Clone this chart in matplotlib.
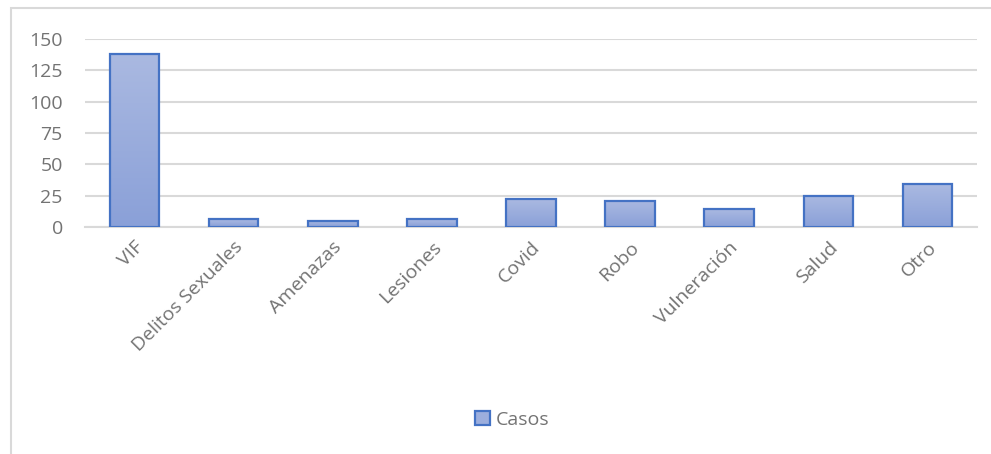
import matplotlib.pyplot as plt
import matplotlib.patches as mpatches
import numpy as np

categorias = ['VIF', 'Delitos Sexuales', 'Amenazas', 'Lesiones', 'Covid',
              'Robo', 'Vulneración', 'Salud', 'Otro']
casos = [138, 6, 5, 6, 22, 21, 14, 25, 34]
y_ticks = [0, 25, 50, 75, 100, 125, 150]

plt.rcParams['font.family'] = ['Open Sans', 'DejaVu Sans']
gris = '#737373'
borde = '#4472C4'

fig = plt.figure(figsize=(9.91, 4.54), dpi=100)
ax = fig.add_axes([85 / 991, 0.5, (977 - 85) / 991, 0.914 - 0.5])

x = np.arange(len(categorias))
ancho = 0.5

# gradient fill: lighter at the top, darker at the bottom
grad = np.linspace(0, 1, 256).reshape(-1, 1)
cmap = plt.matplotlib.colors.LinearSegmentedColormap.from_list(
    'g', ['#8AA0D8', '#AAB9E1'])
bars = ax.bar(x, casos, width=ancho, color='none', edgecolor=borde,
              linewidth=1.6, zorder=3)
for b in bars:
    x0, h = b.get_x(), b.get_height()
    im = ax.imshow(grad, extent=[x0, x0 + ancho, 0, h], origin='lower',
                   cmap=cmap, aspect='auto', zorder=2)
    im.set_clip_path(b)

ax.set_xlim(-0.5, len(categorias) - 0.5)
ax.set_ylim(0, 150)
ax.set_yticks(y_ticks)
ax.set_xticks(x)
ax.set_xticklabels(categorias, rotation=45, ha='right',
                   rotation_mode='anchor')
ax.tick_params(axis='both', length=0, labelsize=14, colors=gris)
ax.tick_params(axis='x', pad=8)
ax.tick_params(axis='y', pad=16)
ax.grid(True, axis='y', color='#D9D9D9', linewidth=1.5, zorder=0)
ax.set_axisbelow(True)
for s in ['top', 'right', 'left']:
    ax.spines[s].set_visible(False)
ax.spines['bottom'].set_color('#D9D9D9')
ax.spines['bottom'].set_linewidth(1.5)

handle = mpatches.Patch(facecolor='#9CAEDD', edgecolor=borde, linewidth=1.6,
                        label='Casos')
fig.legend(handles=[handle], loc='center', bbox_to_anchor=(512 / 991, 1 - 420 / 454),
           frameon=False, fontsize=14, labelcolor=gris, handlelength=0.75,
           handleheight=0.75, handletextpad=0.3)

# chart area border
fig.patches.append(mpatches.Rectangle((11 / 991, -0.1), 1.2, 0.1 + (454 - 8) / 454,
                                      transform=fig.transFigure, fill=False,
                                      edgecolor='#D9D9D9', linewidth=1.5))

fig.savefig('out.png', dpi=100)
